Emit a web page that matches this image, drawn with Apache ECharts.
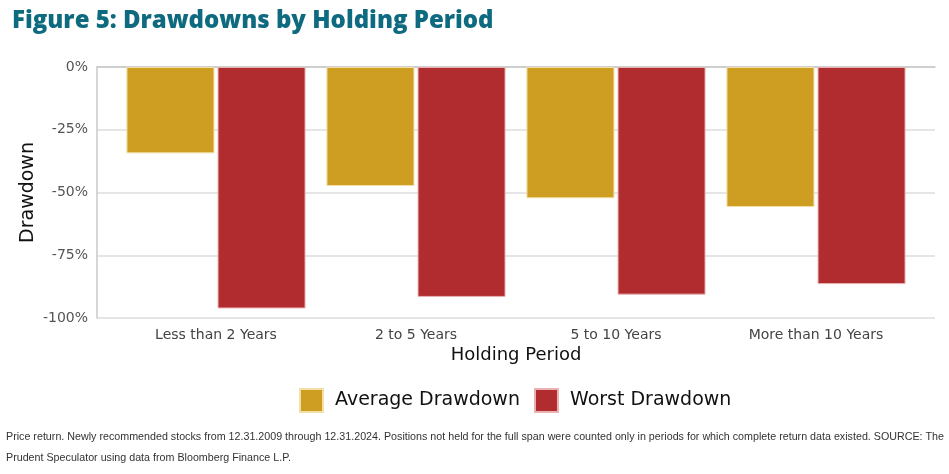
<!DOCTYPE html>
<html><head><meta charset="utf-8">
<script src="https://cdn.jsdelivr.net/npm/echarts@6/dist/echarts.min.js"></script>
<style>html,body{margin:0;padding:0;background:#fff}#c{width:949px;height:474px}</style>
</head><body><div id="c"></div>
<script>
const categories = ['Less than 2 Years', '2 to 5 Years', '5 to 10 Years', 'More than 10 Years'];
const averageDrawdown = [-34.4, -47.4, -52.3, -55.8];
const worstDrawdown = [-96.2, -91.6, -90.7, -86.5];
const yTicks = [0, -25, -50, -75, -100];
const seriesNames = ['Average Drawdown', 'Worst Drawdown'];
const footLines = [
  'Price return. Newly recommended stocks from 12.31.2009 through 12.31.2024. Positions not held for the full span were counted only in periods for which complete return data existed. SOURCE: The',
  'Prudent Speculator using data from Bloomberg Finance L.P.'
];

const chart = echarts.init(document.getElementById('c'));
const F = 'DejaVu Sans';
const footFont = '11.5px "Liberation Sans"';
const cv = document.createElement('canvas').getContext('2d');
cv.font = footFont;
const footScale = 938 / cv.measureText(footLines[0]).width;

chart.setOption({
  animation: false,
  title: [
    { text: 'Figure 5: Drawdowns by Holding Period', left: 7, top: 4,
      textStyle: { fontFamily: 'Open Sans', fontWeight: 800, fontSize: 24, color: '#0E6A7F' } }
  ],
  graphic: footLines.map((t, i) => ({
    type: 'text', left: 6, top: 431 + i * 21, scaleX: footScale, scaleY: 1,
    style: { text: t, font: footFont, fill: '#333' }
  })),
  legend: {
    data: seriesNames, top: 383, left: 294, itemWidth: 23, itemHeight: 23, itemGap: 14,
    icon: 'rect',
    textStyle: { fontFamily: F, fontSize: 19, color: '#111', padding: [0, 0, 0, 7] }
  },
  grid: [
    { left: 97, right: 14, top: 67, bottom: 156 },
    { left: 116, right: 33, top: 67, bottom: 156 }
  ],
  xAxis: [
    { type: 'category', gridIndex: 0, data: categories, axisTick: { show: false },
      axisLabel: { show: false }, axisLine: { lineStyle: { color: '#c8c8c8', width: 1.5 } },
      name: 'Holding Period', nameLocation: 'middle', nameGap: 28,
      nameTextStyle: { fontFamily: F, fontSize: 18, color: '#111' } },
    { type: 'category', gridIndex: 1, data: categories, axisTick: { show: false },
      axisLine: { show: false },
      axisLabel: { fontFamily: F, fontSize: 14, color: '#444', margin: 10 } }
  ],
  yAxis: [
    { type: 'value', gridIndex: 0, min: -100, max: 0, interval: 25,
      axisLine: { show: true, lineStyle: { color: '#c8c8c8', width: 1.5 } },
      splitLine: { lineStyle: { color: '#dcdcdc', width: 1.5 } },
      axisLabel: { fontFamily: F, fontSize: 14, color: '#555', margin: 9,
        formatter: v => (yTicks.includes(v) ? v + '%' : '') },
      name: 'Drawdown', nameLocation: 'middle', nameGap: 59, nameRotate: 90,
      nameMoveOverlap: false,
      nameTextStyle: { fontFamily: F, fontSize: 19, color: '#111' } },
    { type: 'value', gridIndex: 1, min: -100, max: 0, interval: 25, show: false }
  ],
  series: [
    { name: seriesNames[0], type: 'bar', xAxisIndex: 1, yAxisIndex: 1, data: averageDrawdown,
      barWidth: 88, barGap: '3.5%',
      itemStyle: { color: '#CD9E21', borderColor: '#F3DFA8', borderWidth: 1 } },
    { name: seriesNames[1], type: 'bar', xAxisIndex: 1, yAxisIndex: 1, data: worstDrawdown,
      barWidth: 88, barGap: '3.5%',
      itemStyle: { color: '#B02C2E', borderColor: '#E9B3B3', borderWidth: 1 } }
  ]
});
</script></body></html>
